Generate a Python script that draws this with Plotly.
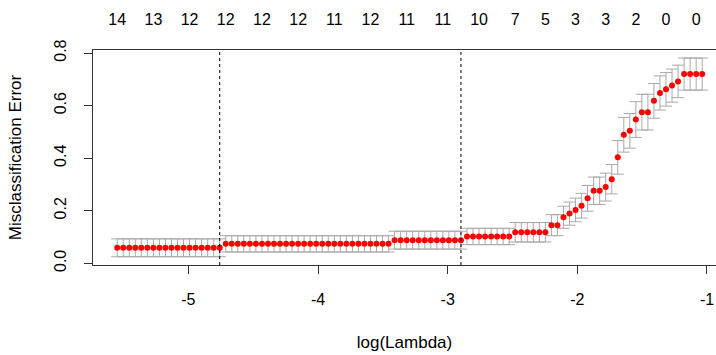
import numpy as np
import plotly.graph_objects as go

# glmnet cross-validation path: log(lambda) grid (evenly spaced on the log scale),
# mean misclassification error and its standard error at each lambda
n_lambda = 98
log_lambda = np.linspace(-5.549, -1.037, n_lambda)

cv_error = (
    [0.059, 0.059, 0.059, 0.059, 0.059, 0.059, 0.059, 0.059, 0.059,
     0.059, 0.059, 0.059, 0.059, 0.059, 0.059, 0.059, 0.059, 0.059] +
    [0.074, 0.074, 0.074, 0.074, 0.074, 0.074, 0.074, 0.074, 0.074, 0.074,
     0.074, 0.074, 0.074, 0.074, 0.074, 0.074, 0.074, 0.074, 0.074, 0.074,
     0.074, 0.074, 0.074, 0.074, 0.074, 0.074, 0.074, 0.074] +
    [0.088, 0.088, 0.088, 0.088, 0.088, 0.088, 0.088, 0.088, 0.088, 0.088,
     0.088, 0.088] +
    [0.102, 0.102, 0.102, 0.102, 0.102, 0.102, 0.102, 0.102] +
    [0.118, 0.118, 0.118, 0.118, 0.118, 0.118] +
    [0.145, 0.145, 0.175, 0.189, 0.203, 0.219, 0.247, 0.276, 0.276, 0.290,
     0.320, 0.403, 0.489, 0.504, 0.547, 0.575, 0.575, 0.618, 0.648, 0.662,
     0.676, 0.692, 0.720, 0.720, 0.720, 0.720]
)

cv_sd = (
    [0.034, 0.034, 0.034, 0.034, 0.034, 0.034, 0.034, 0.034, 0.034,
     0.034, 0.034, 0.034, 0.034, 0.034, 0.034, 0.034, 0.034, 0.034] +
    [0.031, 0.031, 0.031, 0.031, 0.031, 0.031, 0.031, 0.031, 0.031, 0.031,
     0.031, 0.031, 0.031, 0.031, 0.031, 0.031, 0.031, 0.031, 0.031, 0.031,
     0.031, 0.031, 0.031, 0.031, 0.031, 0.031, 0.031, 0.031] +
    [0.034, 0.034, 0.034, 0.034, 0.034, 0.034, 0.034, 0.034, 0.034, 0.034,
     0.034, 0.034] +
    [0.031, 0.031, 0.031, 0.031, 0.031, 0.031, 0.031, 0.031] +
    [0.037, 0.037, 0.037, 0.037, 0.037, 0.037] +
    [0.040, 0.040, 0.042, 0.044, 0.045, 0.047, 0.049, 0.052, 0.052, 0.053,
     0.056, 0.064, 0.066, 0.066, 0.068, 0.068, 0.068, 0.066, 0.065, 0.064,
     0.063, 0.062, 0.061, 0.061, 0.061, 0.061]
)

# positions (index into the path) of lambda.min and lambda.1se
idx_min = 17
idx_1se = 57

# number of non-zero coefficients, printed along the top axis
nz_idx = [0, 6, 12, 18, 24, 30, 36, 42, 48, 54, 60, 66, 71, 76, 81, 86, 91, 96]
nz_labels = ["14", "13", "12", "12", "12", "12", "11", "12", "11", "11",
             "10", "7", "5", "3", "3", "2", "0", "0"]

x_ticks = [-5, -4, -3, -2, -1]
y_ticks = [0.0, 0.2, 0.4, 0.6, 0.8]
y_ticktext = ["0.0", "0.2", "0.4", "0.6", "0.8"]

x_range = [-5.7356, -0.9305]
y_range = [-0.0065, 0.8115]

FONT = "Arial, Liberation Sans, sans-serif"
AXIS_COLOR = "#333333"

fig = go.Figure()

fig.add_trace(go.Scatter(
    x=log_lambda,
    y=cv_error,
    mode="markers",
    marker=dict(color="red", size=6, line=dict(width=0)),
    error_y=dict(type="data", array=cv_sd, color="#A9A9A9",
                 thickness=1, width=6),
    showlegend=False,
    hoverinfo="skip",
))

for i in (idx_min, idx_1se):
    fig.add_shape(type="line", xref="x", yref="paper",
                  x0=log_lambda[i], x1=log_lambda[i], y0=0, y1=1,
                  line=dict(color="black", width=1, dash="dot"))

fig.update_layout(
    width=716, height=355,
    margin=dict(l=93, r=0, t=50, b=90),
    paper_bgcolor="white", plot_bgcolor="white",
    font=dict(family=FONT, size=16, color="black"),
    xaxis=dict(
        range=x_range, tickvals=x_ticks, ticktext=[str(v) for v in x_ticks],
        ticks="outside", ticklen=8, tickcolor=AXIS_COLOR, tickwidth=1,
        showline=True, linecolor=AXIS_COLOR, linewidth=1,
        showgrid=False, zeroline=False, ticklabelstandoff=12,
        title=dict(text="log(Lambda)", standoff=28, font=dict(size=17)),
    ),
    xaxis2=dict(
        overlaying="x", side="top", anchor="y", matches="x",
        range=x_range,
        tickvals=[log_lambda[i] for i in nz_idx], ticktext=nz_labels,
        ticks="", showline=True, linecolor=AXIS_COLOR, linewidth=1,
        showgrid=False, zeroline=False, ticklabelstandoff=18,
    ),
    yaxis=dict(
        range=y_range, tickvals=y_ticks, ticktext=y_ticktext, tickangle=-90,
        ticks="outside", ticklen=8, tickcolor=AXIS_COLOR, tickwidth=1,
        showline=True, linecolor=AXIS_COLOR, linewidth=1,
        showgrid=False, zeroline=False, ticklabelstandoff=12,
        title=dict(text="Misclassification Error", standoff=25, font=dict(size=17)),
    ),
)

# an invisible trace so the top axis is laid out
fig.add_trace(go.Scatter(x=[log_lambda[0]], y=[cv_error[0]], xaxis="x2",
                         mode="markers", marker=dict(opacity=0),
                         showlegend=False, hoverinfo="skip"))

fig.write_html("out.html")
